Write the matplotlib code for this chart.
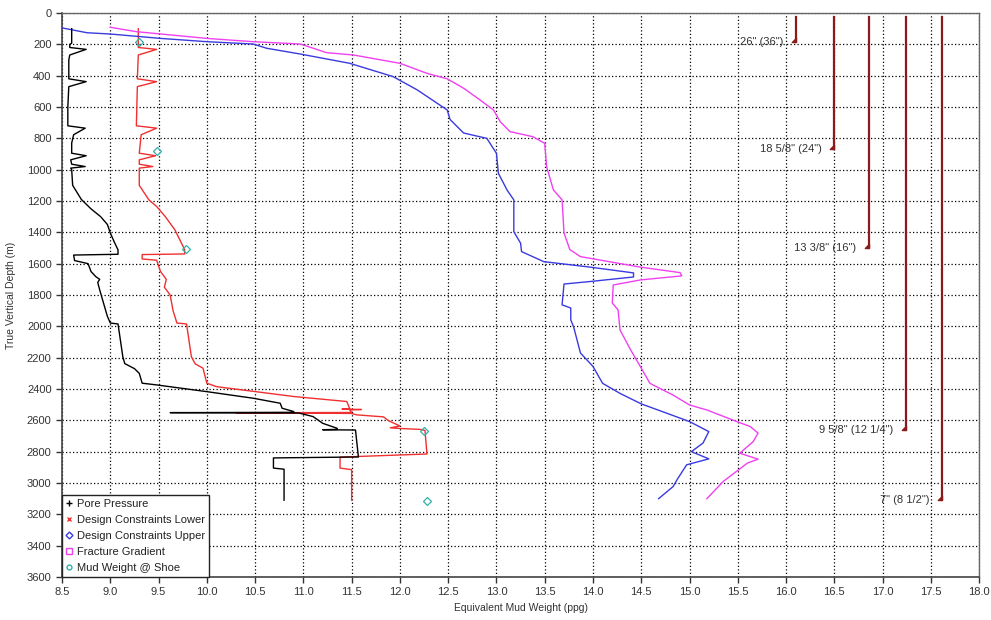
import matplotlib
matplotlib.use("Agg")
import matplotlib.pyplot as plt
from matplotlib.lines import Line2D

plt.rcParams['font.family'] = ['Liberation Sans', 'DejaVu Sans']

# pore pressure (ppg) vs depth (m)
pp_emw = [8.6, 8.6, 8.58, 8.58, 8.75, 8.58, 8.57, 8.57, 8.75, 8.57, 8.56, 8.56, 8.74, 8.62,
          8.6, 8.6, 8.75, 8.59, 8.6, 8.74, 8.59, 8.6, 8.61, 8.7, 8.8, 8.9, 8.97, 9.0, 9.04,
          9.08, 9.08, 8.62, 8.63, 8.77, 8.8, 8.85, 8.89, 8.87, 8.89, 8.92, 8.97, 9.0, 9.08,
          9.13, 9.15, 9.25, 9.3, 9.33, 9.48, 10.0, 10.48, 10.76, 10.78, 10.9, 10.9, 9.62,
          10.95, 11.1, 11.2, 11.35, 11.35, 11.2, 11.54, 11.57, 10.69, 10.69, 10.8, 10.8]
pp_depth = [100, 193, 200, 220, 232, 268, 300, 420, 438, 470, 600, 720, 735, 777,
            830, 895, 911, 937, 965, 980, 990, 1000, 1100, 1190, 1250, 1300, 1350, 1404, 1460,
            1512, 1540, 1545, 1580, 1600, 1650, 1683, 1700, 1720, 1767, 1831, 1937, 1979, 1985,
            2195, 2238, 2270, 2300, 2363, 2374, 2417, 2459, 2491, 2523, 2544, 2549, 2551,
            2553, 2576, 2619, 2651, 2658, 2660, 2662, 2834, 2840, 2905, 2912, 3110]

# design constraints lower
dcl_emw = [9.29, 9.29, 9.48, 9.29, 9.28, 9.48, 9.28, 9.27, 9.48, 9.32, 9.3, 9.47, 9.3, 9.3,
           9.44, 9.3, 9.3, 9.4, 9.48, 9.57, 9.67, 9.77, 9.77, 9.33, 9.33, 9.48, 9.52, 9.58,
           9.56, 9.62, 9.65, 9.69, 9.79, 9.84, 9.88, 9.96, 10.0, 10.1, 10.9, 11.45, 11.48,
           11.4, 11.6, 11.48, 11.5, 10.3, 11.5, 11.55, 11.83, 11.88, 12.0, 11.9, 12.0, 12.21,
           12.26, 12.28, 11.38, 11.38, 11.5, 11.5]
dcl_depth = [100, 220, 232, 268, 420, 438, 470, 720, 735, 777, 895, 911, 937, 965,
             980, 990, 1100, 1193, 1235, 1300, 1385, 1510, 1538, 1542, 1570, 1578, 1650, 1700,
             1750, 1800, 1900, 1979, 1985, 2195, 2240, 2267, 2363, 2385, 2448, 2480, 2525,
             2528, 2531, 2534, 2550, 2552, 2556, 2565, 2578, 2602, 2636, 2648, 2652, 2658,
             2665, 2815, 2835, 2905, 2915, 3110]

# design constraints upper
dcu_emw = [8.5, 8.76, 9.0, 9.52, 10.0, 10.48, 10.62, 10.97, 11.48, 11.93, 12.18, 12.49, 12.52,
           12.66, 12.9, 13.0, 13.02, 13.11, 13.18, 13.18, 13.25, 13.26, 13.49, 13.97, 14.42,
           14.42, 13.97, 13.7, 13.68, 13.77, 13.77, 13.8, 13.87, 14.0, 14.1, 14.28, 14.5,
           15.0, 15.2, 15.14, 15.02, 15.2, 14.97, 14.87, 14.83, 14.68]
dcu_depth = [95, 126, 134, 162, 183, 198, 225, 262, 321, 406, 491, 619, 680,
             766, 800, 895, 1023, 1130, 1193, 1396, 1469, 1523, 1587, 1622, 1659,
             1685, 1714, 1730, 1863, 1883, 1959, 2004, 2170, 2256, 2364, 2428, 2495,
             2608, 2672, 2745, 2800, 2846, 2884, 2980, 3023, 3100]

# fracture gradient
fg_emw = [9.0, 9.27, 10.0, 10.48, 10.97, 11.24, 11.52, 12.0, 12.28, 12.49, 12.66, 12.83, 12.97,
          13.04, 13.14, 13.38, 13.5, 13.52, 13.59, 13.68, 13.7, 13.76, 13.87, 14.49, 14.9,
          14.92, 14.49, 14.21, 14.2, 14.26, 14.28, 14.39, 14.49, 14.59, 14.83, 15.0, 15.18,
          15.49, 15.63, 15.71, 15.66, 15.52, 15.71, 15.6, 15.35, 15.18]
fg_depth = [91, 119, 162, 183, 198, 253, 268, 321, 385, 420, 480, 555, 619,
            694, 757, 790, 832, 981, 1129, 1193, 1404, 1510, 1555, 1622, 1657,
            1678, 1704, 1736, 1851, 1895, 2023, 2150, 2256, 2364, 2439, 2502, 2534,
            2608, 2640, 2682, 2736, 2810, 2848, 2873, 2990, 3100]

# mud weight at casing shoes
shoe_mw = [9.3, 9.48, 9.78, 12.25, 12.28]
shoe_depth = [187, 879, 1504, 2665, 3112]

# casing strings
casing_labels = ['26" (36")', '18 5/8" (24")', '13 3/8" (16")', '9 5/8" (12 1/4")', '7" (8 1/2")']
casing_x = [16.1, 16.5, 16.86, 17.24, 17.62]
casing_top = [25, 25, 25, 25, 25]
casing_shoe = [182, 870, 1497, 2660, 3108]

fig = plt.figure(figsize=(9.91, 6.2), dpi=100)
ax = fig.add_axes([0.0626, 0.0694, 0.9254, 0.9096])

ax.plot(pp_emw, pp_depth, color='black', lw=1.0, zorder=4)
ax.plot(dcl_emw, dcl_depth, color='#f03030', lw=1.0, zorder=3)
ax.plot(dcu_emw, dcu_depth, color='#3a3ae0', lw=1.0, zorder=3)
ax.plot(fg_emw, fg_depth, color='#f040f0', lw=1.0, zorder=3)
ax.plot(shoe_mw, shoe_depth, ls='none', marker='D', ms=4, mfc='none', mec='#30b0a8', mew=0.9, zorder=5)

shoe_marker = [(0, 0), (-1, 0), (0, 1), (0, 0)]
for lab, cx, top, bot in zip(casing_labels, casing_x, casing_top, casing_shoe):
    ax.plot([cx, cx], [top, bot], color='#8b1a1a', lw=1.6, zorder=4)
    ax.plot([cx], [bot], marker=shoe_marker, ms=6, color='#8b1a1a', ls='none', zorder=4)
    ax.annotate(lab, (cx, bot), xytext=(-9, 0), textcoords='offset points',
                ha='right', va='center', fontsize=8, color='#333333')

ax.set_xlim(8.5, 18.0)
ax.set_ylim(3600, 0)
ax.set_xticks([8.5 + 0.5 * i for i in range(20)])
ax.set_xticklabels(['%.1f' % (8.5 + 0.5 * i) for i in range(20)])
ax.set_yticks(range(0, 3601, 200))
ax.tick_params(axis='both', direction='out', length=4, width=1, labelsize=8, colors='#333333')
ax.grid(True, color='black', ls=(0, (1, 1.8)), lw=0.9)
ax.set_axisbelow(True)
for s in ['left', 'bottom']:
    ax.spines[s].set_color('#444444')
    ax.spines[s].set_linewidth(1.2)
for s in ['top', 'right']:
    ax.spines[s].set_color('#666666')
    ax.spines[s].set_linewidth(1.0)

ax.set_ylabel('True Vertical Depth (m)', fontsize=7.5, color='#333333', labelpad=8)
ax.set_xlabel('Equivalent Mud Weight (ppg)', fontsize=7.5, color='#333333', labelpad=4)

handles = [
    Line2D([], [], ls='none', marker='+', ms=5, color='black', mew=1.0),
    Line2D([], [], ls='none', marker='x', ms=3.5, color='#f03030', mew=1.0),
    Line2D([], [], ls='none', marker='D', ms=3.5, mfc='none', mec='#3a3ae0', mew=1.0),
    Line2D([], [], ls='none', marker='s', ms=4, mfc='none', mec='#f040f0', mew=1.0),
    Line2D([], [], ls='none', marker='o', ms=3.5, mfc='none', mec='#30b0a8', mew=1.0),
]
names = ['Pore Pressure', 'Design Constraints Lower', 'Design Constraints Upper',
         'Fracture Gradient', 'Mud Weight @ Shoe']
leg = ax.legend(handles, names, loc='lower left', borderaxespad=0, fontsize=8,
                handlelength=0.6, handletextpad=0.4, labelspacing=0.55,
                borderpad=0.35, fancybox=False, framealpha=1, edgecolor='#222222')
leg.get_frame().set_linewidth(1.0)
for t in leg.get_texts():
    t.set_color('#222222')

fig.savefig('out.png', dpi=100)
